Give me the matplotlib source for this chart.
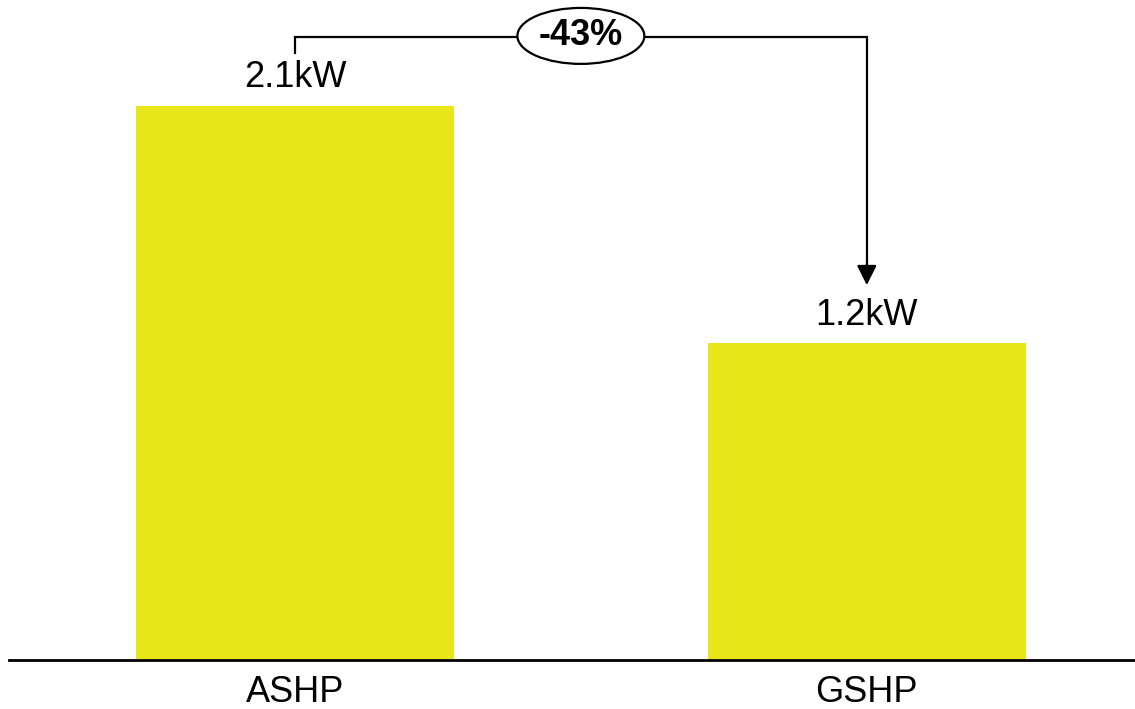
import matplotlib.pyplot as plt
from matplotlib.patches import Ellipse

categories = ['ASHP', 'GSHP']
values = [2.1, 1.2]
labels = ['2.1kW', '1.2kW']
change_label = '-43%'

plt.rcParams['font.family'] = ['Liberation Sans', 'DejaVu Sans']

fig = plt.figure(figsize=(11.35, 7.09), dpi=100)
ax = fig.add_axes([9 / 1135, 49 / 709, 1126 / 1135, 660 / 709])

x = range(len(categories))
ax.bar(x, values, width=0.556, color='#e6e619')
ax.set_xlim(-0.5, 1.469)
ax.set_ylim(0, 2.5)

for xi, v, lab in zip(x, values, labels):
    ax.text(xi, v + 0.04, lab, ha='center', va='bottom', fontsize=26)

# bracket with arrow from ASHP to GSHP
y_line = 2.358
ax.plot([0, 0, 1, 1], [2.30, y_line, y_line, values[1] + 0.27],
        color='black', lw=1.6, clip_on=False, solid_joinstyle='miter')
ax.annotate('', xy=(1, values[1] + 0.22), xytext=(1, values[1] + 0.3),
            arrowprops=dict(arrowstyle='-|>', color='black', lw=1.6,
                            mutation_scale=30, shrinkA=0, shrinkB=0))
ell = Ellipse((0.5, 2.364), 0.222, 0.212, facecolor='white',
              edgecolor='black', lw=1.6, clip_on=False, zorder=3)
ax.add_patch(ell)
ax.text(0.5, 2.364, change_label, ha='center', va='center', fontsize=26,
        fontweight='bold', zorder=4)

for s in ['top', 'right', 'left']:
    ax.spines[s].set_visible(False)
ax.spines['bottom'].set_linewidth(2)
ax.set_yticks([])
ax.set_xticks(list(x))
ax.set_xticklabels(categories, fontsize=26)
ax.tick_params(axis='x', length=0, pad=11)

fig.savefig('out.png', dpi=100)
